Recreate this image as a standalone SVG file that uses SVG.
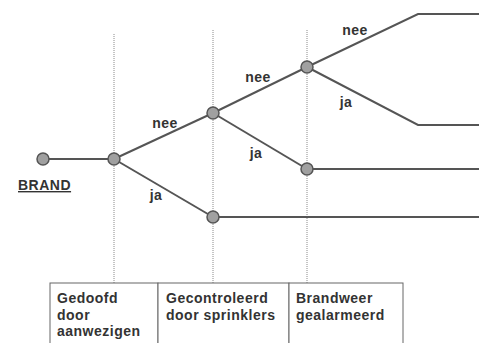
<svg xmlns="http://www.w3.org/2000/svg" width="479" height="343" viewBox="0 0 479 343">
  <style>
    .guide { stroke: #8a8a8a; stroke-width: 1; stroke-dasharray: 1 1; fill: none; }
    .edge { stroke: #555; stroke-width: 2; fill: none; }
    .node { fill: #a0a0a0; stroke: #555; stroke-width: 1.5; }
    .lbl { font-family: "Liberation Sans", Arial, sans-serif; font-weight: bold; font-size: 14px; letter-spacing: 0.5px; fill: #333; }
    .box { fill: #fff; stroke: #666; stroke-width: 1; }
  </style>
  <rect width="479" height="343" fill="#fff"/>

  <!-- dotted guide lines for the three stages -->
  <g id="guides">
    <line class="guide" x1="114" y1="34" x2="114" y2="283"/>
    <line class="guide" x1="213" y1="30" x2="213" y2="283"/>
    <line class="guide" x1="307" y1="30" x2="307" y2="283"/>
  </g>

  <g id="connectors">
    <line class="edge" x1="43" y1="159" x2="114" y2="159"/>
    <line class="edge" x1="114" y1="159" x2="213" y2="113"/>
    <line class="edge" x1="114" y1="159" x2="213" y2="217"/>
    <line class="edge" x1="213" y1="113" x2="307" y2="67"/>
    <line class="edge" x1="213" y1="113" x2="307" y2="169"/>
    <polyline class="edge" points="307,67 418,14 479,14"/>
    <polyline class="edge" points="307,67 418,125 479,125"/>
    <line class="edge" x1="307" y1="169" x2="479" y2="169"/>
    <line class="edge" x1="213" y1="217" x2="479" y2="217"/>
    <text class="lbl" x="165" y="128" text-anchor="middle">nee</text>
    <text class="lbl" x="156" y="200" text-anchor="middle">ja</text>
    <text class="lbl" x="258" y="82" text-anchor="middle">nee</text>
    <text class="lbl" x="256" y="158" text-anchor="middle">ja</text>
    <text class="lbl" x="355" y="35" text-anchor="middle">nee</text>
    <text class="lbl" x="346" y="107" text-anchor="middle">ja</text>
  </g>

  <g id="brand">
    <circle class="node" cx="43" cy="159" r="6"/>
    <text class="lbl" x="18" y="190" text-decoration="underline">BRAND</text>
  </g>
  <g id="n1"><circle class="node" cx="114" cy="159" r="6"/></g>
  <g id="n2"><circle class="node" cx="213" cy="113" r="6"/></g>
  <g id="n3"><circle class="node" cx="213" cy="217" r="6"/></g>
  <g id="n4"><circle class="node" cx="307" cy="67" r="6"/></g>
  <g id="n5"><circle class="node" cx="307" cy="169" r="6"/></g>

  <!-- stage captions -->
  <g id="stage1">
    <rect class="box" x="50" y="283" width="108" height="70"/>
    <text class="lbl" x="57" y="303">Gedoofd</text>
    <text class="lbl" x="57" y="319.5">door</text>
    <text class="lbl" x="57" y="336">aanwezigen</text>
  </g>
  <g id="stage2">
    <rect class="box" x="158" y="283" width="131" height="70"/>
    <text class="lbl" x="166" y="303">Gecontroleerd</text>
    <text class="lbl" x="166" y="319.5">door sprinklers</text>
  </g>
  <g id="stage3">
    <rect class="box" x="289" y="283" width="114" height="70"/>
    <text class="lbl" x="296" y="303">Brandweer</text>
    <text class="lbl" x="296" y="319.5">gealarmeerd</text>
  </g>
</svg>
